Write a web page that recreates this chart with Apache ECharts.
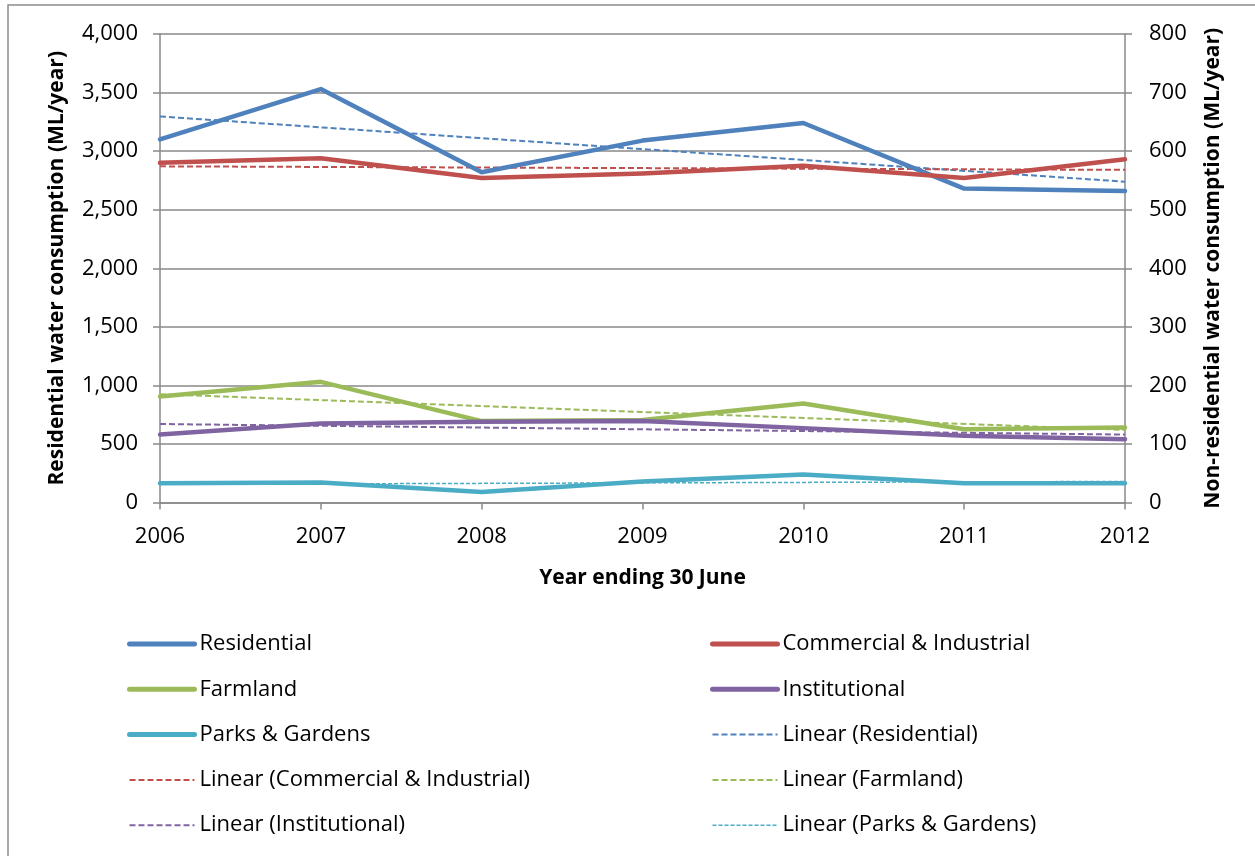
<!DOCTYPE html>
<html>
<head>
<meta charset="utf-8">
<script src="https://cdn.jsdelivr.net/npm/echarts@6/dist/echarts.min.js"></script>
<style>
  html, body { margin: 0; padding: 0; background: #fff; }
  #chart { width: 1255px; height: 856px; }
</style>
</head>
<body>
<div id="chart"></div>
<script>
// Years (ending 30 June)
const years = ['2006', '2007', '2008', '2009', '2010', '2011', '2012'];

// Water consumption, ML/year
const residential = [3100, 3530, 2820, 3090, 3240, 2680, 2660];   // left axis
const commercial = [580, 588, 554, 562, 575, 554, 586];           // right axis
const farmland = [181, 206, 139, 141, 169, 125, 128];
const institutional = [116, 135, 138, 139, 127, 114, 108];
const parks = [33, 34, 18, 36, 48, 33, 33];

// Linear trend lines: values at the first and last year
const trendResidential = [3296, 2739];
const trendCommercial = [574, 568];
const trendFarmland = [185, 124];
const trendInstitutional = [134, 116];
const trendParks = [31, 36];

const FONT = 'Open Sans';
const GRID_COLOR = '#898989';

// spread a two-point trend over the category axis (ends only, gap bridged)
function trendData(pair) {
  return years.map((_, i) => i === 0 ? pair[0] : (i === years.length - 1 ? pair[1] : null));
}

function solid(name, data, color, axis) {
  return {
    name, type: 'line', data, yAxisIndex: axis,
    symbol: 'none', smooth: false, z: 3,
    lineStyle: { color, width: 4.5, cap: 'round', join: 'round' },
    itemStyle: { color }
  };
}
function trend(name, pair, color, axis, width, dash) {
  return {
    name, type: 'line', data: trendData(pair), yAxisIndex: axis,
    symbol: 'none', connectNulls: true, z: 2,
    lineStyle: { color, width: width, type: dash },
    itemStyle: { color }
  };
}

const C = {
  res: '#4F81BD', com: '#C0504D', farm: '#9BBB59', inst: '#8064A2', parks: '#4BACC6'
};

const axisLine = { show: true, lineStyle: { color: GRID_COLOR, width: 1.5 } };
const axisTick = { show: true, length: 7, lineStyle: { color: GRID_COLOR, width: 1.5 } };
const labelStyle = { fontFamily: FONT, fontSize: 22, color: '#000' };
const nameStyle = { fontFamily: FONT, fontSize: 21, fontWeight: 'bold', color: '#000' };

// legend entries: solid series get a thick key line, trend lines a thin dashed one
function legendItem(name) {
  const isTrend = name.indexOf('Linear') === 0;
  return { name, lineStyle: { width: isTrend ? (name.indexOf('Parks') > 0 ? 1.5 : 2) : 5 } };
}

const legendCommon = {
  orient: 'vertical',
  padding: 0,
  itemWidth: 65,
  itemHeight: 22,
  itemGap: 23.3,
  itemStyle: { opacity: 0 },
  textStyle: { fontFamily: FONT, fontSize: 22, color: '#000', lineHeight: 22 }
};

const option = {
  backgroundColor: '#fff',
  animation: false,
  textStyle: { fontFamily: FONT },
  graphic: [{
    type: 'rect', silent: true, z: -10,
    shape: { x: 8, y: 5, width: 1270, height: 900 },
    style: { fill: 'none', stroke: '#8c8c8c', lineWidth: 1.5 }
  }],
  grid: { left: 160, right: 130, top: 34, bottom: 353.5, containLabel: false },
  legend: [
    Object.assign({}, legendCommon, {
      left: 127, top: 633,
      data: ['Residential', 'Farmland', 'Parks & Gardens', 'Linear (Commercial & Industrial)', 'Linear (Institutional)'].map(legendItem)
    }),
    Object.assign({}, legendCommon, {
      left: 710, top: 633,
      data: ['Commercial & Industrial', 'Institutional', 'Linear (Residential)', 'Linear (Farmland)', 'Linear (Parks & Gardens)'].map(legendItem)
    })
  ],
  xAxis: {
    type: 'category', data: years, boundaryGap: false,
    name: 'Year ending 30 June', nameLocation: 'middle', nameGap: 65,
    nameTextStyle: nameStyle,
    axisLine, axisTick: Object.assign({}, axisTick, { alignWithLabel: true }),
    axisLabel: Object.assign({ margin: 23 }, labelStyle),
    splitLine: { show: false }
  },
  yAxis: [
    {
      type: 'value', min: 0, max: 4000, interval: 500, position: 'left',
      name: 'Residential water consumption (ML/year)', nameLocation: 'middle', nameRotate: 90, nameGap: 92,
      nameTextStyle: nameStyle,
      axisLine, axisTick,
      axisLabel: Object.assign({ margin: 22, formatter: v => v.toLocaleString('en-US') }, labelStyle),
      splitLine: { show: true, lineStyle: { color: GRID_COLOR, width: 1.5 } }
    },
    {
      type: 'value', min: 0, max: 800, interval: 100, position: 'right',
      name: 'Non-residential water consumption (ML/year)', nameLocation: 'middle', nameRotate: 90, nameGap: 78,
      nameTextStyle: nameStyle,
      axisLine, axisTick,
      axisLabel: Object.assign({ margin: 24 }, labelStyle),
      splitLine: { show: false }
    }
  ],
  series: [
    solid('Residential', residential, C.res, 0),
    solid('Commercial & Industrial', commercial, C.com, 1),
    solid('Farmland', farmland, C.farm, 1),
    solid('Institutional', institutional, C.inst, 1),
    solid('Parks & Gardens', parks, C.parks, 1),
    trend('Linear (Residential)', trendResidential, C.res, 0, 2, [6, 3]),
    trend('Linear (Commercial & Industrial)', trendCommercial, C.com, 1, 2, [6, 3]),
    trend('Linear (Farmland)', trendFarmland, C.farm, 1, 2, [6, 3]),
    trend('Linear (Institutional)', trendInstitutional, C.inst, 1, 2, [6, 3]),
    trend('Linear (Parks & Gardens)', trendParks, C.parks, 1, 1.5, [4, 2])
  ]
};

const chart = echarts.init(document.getElementById('chart'), null, { renderer: 'canvas' });
chart.setOption(option);
</script>
</body>
</html>
